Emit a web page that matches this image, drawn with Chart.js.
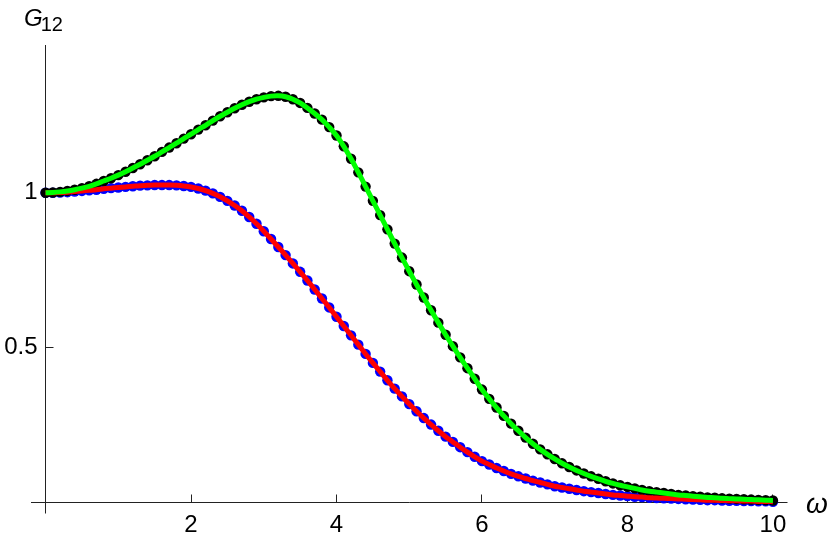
<!DOCTYPE html>
<html>
<head>
<meta charset="utf-8">
<script src="https://cdn.jsdelivr.net/npm/chart.js@4"></script>
<style>
html, body { margin: 0; padding: 0; background: #fff; }
</style>
</head>
<body>
<canvas id="chart" width="830" height="543"></canvas>
<script>
// omega grid of the sampled points
var omega = [0.0,0.1,0.2,0.3,0.4,0.5,0.6,0.7,0.8,0.9,
             1.0,1.1,1.2,1.3,1.4,1.5,1.6,1.7,1.8,1.9,
             2.0,2.1,2.2,2.3,2.4,2.5,2.6,2.7,2.8,2.9,
             3.0,3.1,3.2,3.3,3.4,3.5,3.6,3.7,3.8,3.9,
             4.0,4.1,4.2,4.3,4.4,4.5,4.6,4.7,4.8,4.9,
             5.0,5.1,5.2,5.3,5.4,5.5,5.6,5.7,5.8,5.9,
             6.0,6.1,6.2,6.3,6.4,6.5,6.6,6.7,6.8,6.9,
             7.0,7.1,7.2,7.3,7.4,7.5,7.6,7.7,7.8,7.9,
             8.0,8.1,8.2,8.3,8.4,8.5,8.6,8.7,8.8,8.9,
             9.0,9.1,9.2,9.3,9.4,9.5,9.6,9.7,9.8,9.9,10.0];

// upper curve (black dots, green line)
var upperG = [1.000,1.001,1.003,1.006,1.010,1.015,1.021,1.029,1.038,1.047,
              1.057,1.068,1.080,1.092,1.105,1.118,1.132,1.146,1.160,1.175,
              1.189,1.204,1.218,1.233,1.247,1.260,1.273,1.284,1.294,1.302,
              1.308,1.312,1.313,1.310,1.302,1.290,1.274,1.256,1.236,1.212,
              1.185,1.150,1.110,1.066,1.020,0.974,0.928,0.882,0.836,0.791,
              0.747,0.704,0.662,0.621,0.581,0.542,0.505,0.469,0.434,0.400,
              0.365,0.335,0.307,0.280,0.255,0.232,0.210,0.190,0.172,0.156,
              0.141,0.127,0.115,0.104,0.094,0.085,0.077,0.069,0.062,0.056,
              0.051,0.046,0.041,0.037,0.034,0.031,0.028,0.025,0.023,0.021,
              0.019,0.017,0.016,0.014,0.013,0.012,0.011,0.010,0.009,0.008,0.007];

// lower curve (blue dots, red line)
var lowerG = [1.000,1.000,1.001,1.002,1.004,1.006,1.008,1.010,1.013,1.015,
              1.017,1.019,1.021,1.023,1.024,1.025,1.025,1.025,1.024,1.022,
              1.019,1.014,1.007,0.998,0.987,0.974,0.959,0.942,0.922,0.900,
              0.876,0.851,0.825,0.799,0.772,0.745,0.717,0.688,0.659,0.630,
              0.600,0.570,0.540,0.510,0.480,0.451,0.423,0.395,0.368,0.343,
              0.318,0.295,0.273,0.252,0.232,0.213,0.196,0.179,0.163,0.148,
              0.134,0.123,0.112,0.102,0.093,0.085,0.078,0.071,0.065,0.059,
              0.053,0.049,0.045,0.041,0.037,0.034,0.031,0.028,0.025,0.023,
              0.021,0.019,0.018,0.016,0.015,0.014,0.013,0.012,0.011,0.010,
              0.009,0.008,0.008,0.007,0.006,0.006,0.005,0.005,0.004,0.004,0.003];

var xTicks = [2, 4, 6, 8, 10];
var yTicks = [0.5, 1];
var yTickLabels = ['0.5', '1'];

function toPoints(ys) {
    return omega.map(function(x, i) { return {x: x, y: ys[i]}; });
}

// Mathematica-style axes crossing at the origin
var axesPlugin = {
    id: 'axes',
    beforeDatasetsDraw: function(chart) {
        var ctx = chart.ctx, xs = chart.scales.x, ys = chart.scales.y, area = chart.chartArea;
        var x0 = Math.floor(xs.getPixelForValue(0)) + 0.5;
        var y0 = Math.floor(ys.getPixelForValue(0)) + 0.5;
        ctx.save();
        ctx.strokeStyle = '#222';
        ctx.lineWidth = 1;
        ctx.beginPath();
        ctx.moveTo(area.left, y0); ctx.lineTo(area.right, y0);
        ctx.moveTo(x0, area.top); ctx.lineTo(x0, area.bottom);
        xTicks.forEach(function(t) {
            var px = Math.floor(xs.getPixelForValue(t)) + 0.5;
            ctx.moveTo(px, y0); ctx.lineTo(px, y0 - 8);
        });
        yTicks.forEach(function(t) {
            var py = Math.floor(ys.getPixelForValue(t)) + 0.5;
            ctx.moveTo(x0, py); ctx.lineTo(x0 + 8, py);
        });
        ctx.stroke();

        ctx.fillStyle = '#000';
        ctx.font = '24px "Liberation Sans", Arial, sans-serif';
        ctx.textAlign = 'center';
        ctx.textBaseline = 'middle';
        xTicks.forEach(function(t) {
            ctx.fillText(String(t), xs.getPixelForValue(t), y0 + 23);
        });
        ctx.textAlign = 'right';
        yTicks.forEach(function(t, i) {
            ctx.fillText(yTickLabels[i], x0 - 8, ys.getPixelForValue(t));
        });

        // axis labels
        ctx.textAlign = 'left';
        ctx.textBaseline = 'alphabetic';
        ctx.font = 'italic 24px "Liberation Sans", Arial, sans-serif';
        ctx.fillText('G', 24, 26);
        var gw = ctx.measureText('G').width;
        ctx.font = '20px "Liberation Sans", Arial, sans-serif';
        ctx.fillText('12', 22 + gw, 31);
        ctx.font = 'italic 28px "Liberation Sans", Arial, sans-serif';
        ctx.fillText('\u03c9', 806, 513);
        ctx.restore();
    }
};

new Chart(document.getElementById('chart'), {
    type: 'scatter',
    data: {
        datasets: [
            {
                data: toPoints(upperG), showLine: true, borderColor: '#00ff00', borderWidth: 5,
                pointRadius: 0, tension: 0.3, order: 0
            },
            {
                data: toPoints(lowerG), showLine: true, borderColor: '#ff0000', borderWidth: 5,
                pointRadius: 0, tension: 0.3, order: 1
            },
            {
                data: toPoints(upperG), showLine: false, pointRadius: 5.2,
                pointBackgroundColor: '#000', pointBorderWidth: 0, order: 2
            },
            {
                data: toPoints(lowerG), showLine: false, pointRadius: 5.2,
                pointBackgroundColor: '#0000ff', pointBorderWidth: 0, order: 3
            }
        ]
    },
    options: {
        responsive: false,
        devicePixelRatio: 1,
        animation: false,
        layout: { padding: { left: 31, right: 42.5, top: 45, bottom: 29.5 } },
        plugins: { legend: { display: false }, tooltip: { enabled: false } },
        scales: {
            x: { type: 'linear', display: false, min: -0.2, max: 10.2 },
            y: { type: 'linear', display: false, min: -0.035, max: 1.477 }
        },
        clip: false
    },
    plugins: [axesPlugin]
});
</script>
</body>
</html>
